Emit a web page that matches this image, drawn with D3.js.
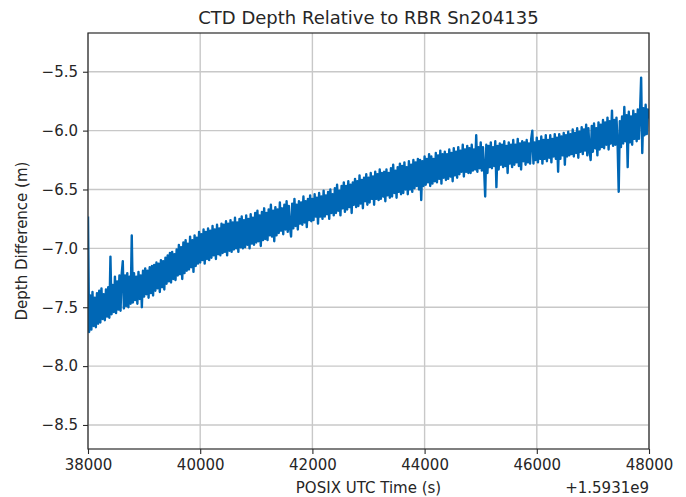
<!DOCTYPE html>
<html>
<head>
<meta charset="utf-8">
<script src="https://cdn.jsdelivr.net/npm/d3@7"></script>
<style>
  html, body { margin: 0; padding: 0; background: #fff; }
  svg { display: block; font-family: "DejaVu Sans", sans-serif; }
</style>
</head>
<body>
<svg id="chart" width="686" height="497"></svg>
<script>
// ---- data ----
const titleText = "CTD Depth Relative to RBR Sn204135";
const xLabelText = "POSIX UTC Time (s)";
const yLabelText = "Depth Difference (m)";
const offsetText = "+1.5931e9";
const xTicks = [38000, 40000, 42000, 44000, 46000, 48000];
const yTicks = [-8.5, -8.0, -7.5, -7.0, -6.5, -6.0, -5.5];
const xLimits = [38000, 48000];
const yLimits = [-8.704, -5.171];
const sampleStart = 38000;   // time (s, minus offset) of first sample
const sampleStep = 20;       // seconds between samples
const depthDiff = [
  -6.73, -7.71, -7.40, -7.69, -7.37, -7.66, -7.42, -7.67, -7.38, -7.64,
  -7.36, -7.63, -7.34, -7.60, -7.39, -7.61, -7.35, -7.58, -7.33, -7.59,
  -7.07, -7.56, -7.31, -7.54, -7.24, -7.55, -7.28, -7.52, -7.23, -7.53,
  -7.22, -7.11, -7.51, -7.23, -7.49, -7.21, -7.50, -7.24, -7.47, -6.89,
  -7.46, -7.21, -7.44, -7.24, -7.47, -7.20, -7.43, -7.23, -7.50, -7.19,
  -7.41, -7.17, -7.39, -7.19, -7.42, -7.16, -7.38, -7.15, -7.40, -7.14,
  -7.36, -7.12, -7.34, -7.13, -7.37, -7.10, -7.33, -7.11, -7.35, -7.08,
  -7.30, -7.06, -7.28, -7.04, -7.29, -7.03, -7.26, -7.05, -7.27, -7.01,
  -7.23, -6.97, -7.22, -6.99, -7.26, -6.95, -7.21, -6.93, -7.19, -6.96,
  -7.18, -6.90, -7.16, -6.93, -7.20, -6.89, -7.15, -6.91, -7.13, -6.86,
  -7.12, -6.88, -7.10, -6.84, -7.13, -6.86, -7.09, -6.83, -7.10, -6.85,
  -7.08, -6.81, -7.06, -6.84, -7.09, -6.80, -7.05, -6.83, -7.06, -6.79,
  -7.04, -6.80, -7.03, -6.77, -7.06, -6.79, -7.02, -6.76, -7.03, -6.78,
  -7.01, -6.74, -7.00, -6.78, -7.03, -6.75, -6.99, -6.73, -7.00, -6.76,
  -6.99, -6.72, -6.97, -6.75, -7.00, -6.71, -6.96, -6.74, -6.97, -6.70,
  -6.95, -6.68, -6.94, -6.72, -6.98, -6.69, -6.93, -6.66, -6.92, -6.70,
  -6.93, -6.67, -6.89, -6.63, -6.90, -6.68, -6.94, -6.65, -6.89, -6.67,
  -6.87, -6.61, -6.85, -6.66, -6.88, -6.63, -6.84, -6.60, -6.86, -6.64,
  -6.82, -6.90, -6.62, -6.83, -6.58, -6.81, -6.63, -6.84, -6.60, -6.79,
  -6.61, -6.80, -6.56, -6.78, -6.60, -6.82, -6.58, -6.76, -6.55, -6.77,
  -6.58, -6.76, -6.54, -6.73, -6.57, -6.79, -6.53, -6.73, -6.56, -6.75,
  -6.51, -6.73, -6.55, -6.71, -6.52, -6.75, -6.50, -6.70, -6.54, -6.72,
  -6.49, -6.70, -6.46, -6.68, -6.51, -6.72, -6.47, -6.66, -6.44, -6.69,
  -6.47, -6.67, -6.43, -6.65, -6.46, -6.70, -6.44, -6.63, -6.41, -6.65,
  -6.43, -6.64, -6.38, -6.62, -6.42, -6.66, -6.40, -6.60, -6.37, -6.63,
  -6.40, -6.61, -6.36, -6.58, -6.39, -6.63, -6.35, -6.58, -6.37, -6.59,
  -6.33, -6.58, -6.36, -6.56, -6.35, -6.60, -6.33, -6.55, -6.36, -6.57,
  -6.32, -6.56, -6.29, -6.53, -6.34, -6.57, -6.31, -6.52, -6.28, -6.54,
  -6.30, -6.53, -6.27, -6.50, -6.31, -6.54, -6.26, -6.50, -6.29, -6.52,
  -6.25, -6.49, -6.27, -6.47, -6.24, -6.50, -6.25, -6.59, -6.26, -6.47,
  -6.22, -6.46, -6.24, -6.44, -6.20, -6.47, -6.22, -6.45, -6.24, -6.43,
  -6.19, -6.44, -6.21, -6.41, -6.17, -6.45, -6.20, -6.40, -6.18, -6.42,
  -6.20, -6.41, -6.16, -6.39, -6.19, -6.43, -6.15, -6.38, -6.18, -6.40,
  -6.14, -6.37, -6.17, -6.35, -6.12, -6.39, -6.16, -6.35, -6.13, -6.36,
  -6.15, -6.36, -6.12, -6.34, -6.16, -6.33, -6.04, -6.35, -6.14, -6.32,
  -6.10, -6.34, -6.14, -6.32, -6.56, -6.12, -6.36, -6.13, -6.31, -6.10,
  -6.32, -6.14, -6.30, -6.09, -6.48, -6.13, -6.33, -6.11, -6.29, -6.12,
  -6.31, -6.09, -6.30, -6.13, -6.36, -6.10, -6.28, -6.12, -6.31, -6.08,
  -6.29, -6.12, -6.27, -6.07, -6.30, -6.11, -6.33, -6.09, -6.26, -6.10,
  -6.29, -6.08, -6.27, -6.11, -6.28, -6.07, -6.00, -6.28, -6.10, -6.25,
  -6.06, -6.27, -6.09, -6.24, -6.05, -6.28, -6.08, -6.24, -6.04, -6.26,
  -6.08, -6.23, -6.04, -6.27, -6.07, -6.22, -6.03, -6.24, -6.06, -6.35,
  -6.03, -6.24, -6.05, -6.21, -6.02, -6.29, -6.04, -6.22, -6.01, -6.21,
  -6.03, -6.20, -5.99, -6.22, -6.02, -6.19, -5.98, -6.23, -6.01, -6.18,
  -5.97, -6.20, -5.99, -6.17, -5.95, -6.21, -5.98, -6.17, -6.25, -5.96,
  -6.18, -5.94, -6.15, -5.98, -6.21, -5.93, -6.16, -5.95, -6.14, -5.91,
  -6.15, -5.93, -6.12, -5.89, -6.16, -5.92, -6.11, -5.83, -6.13, -5.91,
  -6.12, -5.89, -6.11, -6.52, -5.92, -6.14, -5.88, -6.11, -5.80, -6.09,
  -5.87, -6.31, -5.84, -6.10, -5.88, -6.12, -5.83, -6.07, -5.86, -6.09,
  -5.82, -6.07, -5.84, -5.55, -6.19, -5.81, -6.04, -5.78, -6.03, -5.82,
  -5.90
];

// ---- layout ----
const plot = { left: 88, right: 649, top: 33, bottom: 449 };
const lineColor = "#0067b5";

const svg = d3.select("#chart");
const x = d3.scaleLinear().domain(xLimits).range([plot.left, plot.right]);
const y = d3.scaleLinear().domain(yLimits).range([plot.bottom, plot.top]);

const points = depthDiff.map((v, i) => ({ t: sampleStart + i * sampleStep, v }));

// grid
const grid = svg.append("g");
grid.selectAll("line.gx").data(xTicks).join("line")
  .attr("x1", d => x(d)).attr("x2", d => x(d))
  .attr("y1", plot.top).attr("y2", plot.bottom)
  .attr("stroke", "#c8c8c8").attr("stroke-width", 1.4);
grid.selectAll("line.gy").data(yTicks).join("line")
  .attr("y1", d => y(d)).attr("y2", d => y(d))
  .attr("x1", plot.left).attr("x2", plot.right)
  .attr("stroke", "#c8c8c8").attr("stroke-width", 1.4);

// clip
svg.append("clipPath").attr("id", "clip").append("rect")
  .attr("x", plot.left).attr("y", plot.top)
  .attr("width", plot.right - plot.left).attr("height", plot.bottom - plot.top);

// data line
svg.append("path")
  .datum(points)
  .attr("clip-path", "url(#clip)")
  .attr("fill", "none")
  .attr("stroke", lineColor)
  .attr("stroke-width", 2.4)
  .attr("stroke-linejoin", "round")
  .attr("d", d3.line().x(d => x(d.t)).y(d => y(d.v)));

// frame
svg.append("rect")
  .attr("x", plot.left).attr("y", plot.top)
  .attr("width", plot.right - plot.left).attr("height", plot.bottom - plot.top)
  .attr("fill", "none").attr("stroke", "#2a2a2a").attr("stroke-width", 1.2);

// axes
const xAxis = svg.append("g")
  .attr("transform", `translate(0,${plot.bottom})`)
  .call(d3.axisBottom(x).tickValues(xTicks).tickFormat(d3.format("d")).tickSize(5).tickPadding(5));
const yAxis = svg.append("g")
  .attr("transform", `translate(${plot.left},0)`)
  .call(d3.axisLeft(y).tickValues(yTicks).tickFormat(d3.format(".1f")).tickSize(5).tickPadding(5));
[xAxis, yAxis].forEach(a => {
  a.select(".domain").remove();
  a.selectAll(".tick line").attr("stroke", "#2a2a2a").attr("stroke-width", 1.1);
  a.selectAll(".tick text").attr("fill", "#262626")
    .style("font-family", "DejaVu Sans, sans-serif").style("font-size", "15px");
});

// texts
svg.append("text")
  .attr("x", (plot.left + plot.right) / 2).attr("y", 24)
  .attr("text-anchor", "middle").attr("fill", "#262626")
  .style("font-size", "18px").text(titleText);
svg.append("text")
  .attr("x", (plot.left + plot.right) / 2).attr("y", 493)
  .attr("text-anchor", "middle").attr("fill", "#262626")
  .style("font-size", "15px").text(xLabelText);
svg.append("text")
  .attr("x", plot.right).attr("y", 493)
  .attr("text-anchor", "end").attr("fill", "#262626")
  .style("font-size", "15px").text(offsetText);
svg.append("text")
  .attr("transform", `translate(27,${(plot.top + plot.bottom) / 2}) rotate(-90)`)
  .attr("text-anchor", "middle").attr("fill", "#262626")
  .style("font-size", "15px").text(yLabelText);
</script>
</body>
</html>
